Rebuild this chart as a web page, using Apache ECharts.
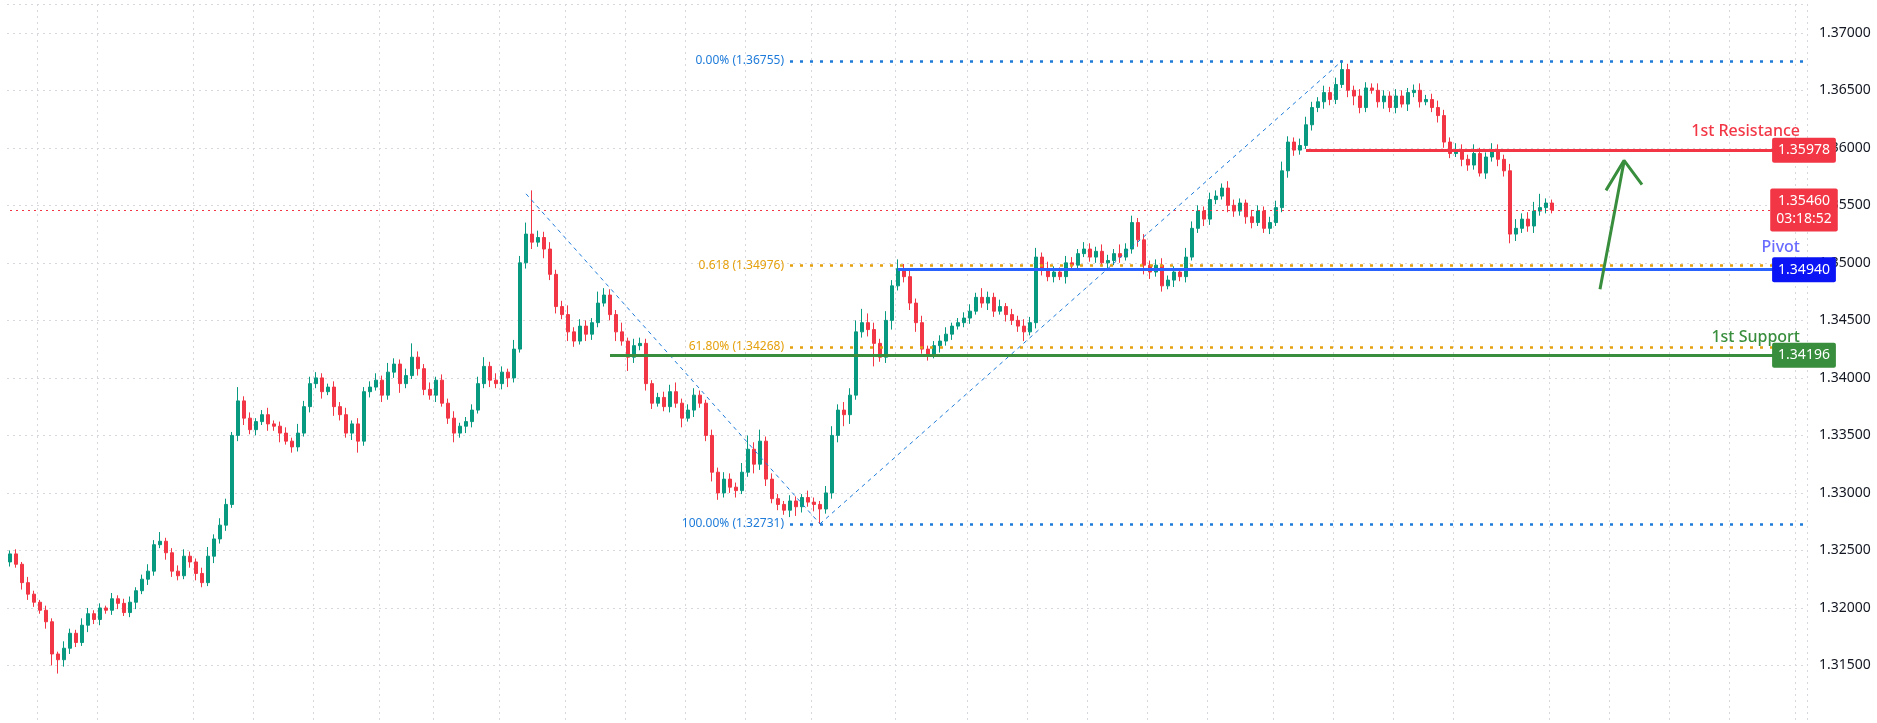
<!DOCTYPE html>
<html><head><meta charset="utf-8">
<script src="https://cdn.jsdelivr.net/npm/echarts@6/dist/echarts.min.js"></script>
<style>html,body{margin:0;padding:0;background:#fff}#c{width:1877px;height:723px}</style>
</head><body><div id="c"></div>
<script>
const firstOpen = 1.3240;
const closes = [
1.3247,1.3238,1.3222,1.3212,1.3205,1.3198,1.3188,1.3160,1.3155,1.3165,
1.3178,1.3170,1.3185,1.3195,1.3190,1.3200,1.3198,1.3208,1.3204,1.3196,
1.3205,1.3215,1.3225,1.3232,1.3255,1.3258,1.3248,1.3232,1.3228,1.3245,
1.3240,1.3230,1.3222,1.3245,1.3260,1.3272,1.3290,1.3350,1.3380,1.3365,
1.3355,1.3362,1.3368,1.3360,1.3358,1.3352,1.3345,1.3340,1.3352,1.3375,
1.3395,1.3400,1.3388,1.3392,1.3375,1.3368,1.3352,1.3360,1.3345,1.3388,
1.3392,1.3398,1.3385,1.3405,1.3412,1.3395,1.3402,1.3418,1.3408,1.3390,
1.3385,1.3398,1.3378,1.3365,1.3352,1.3358,1.3362,1.3372,1.3395,1.3410,
1.3398,1.3395,1.3405,1.3400,1.3425,1.3500,1.3525,1.3518,1.3522,1.3512,
1.3490,1.3462,1.3455,1.3440,1.3432,1.3445,1.3438,1.3448,1.3465,1.3472,
1.3455,1.3440,1.3432,1.3418,1.3428,1.3430,1.3395,1.3378,1.3383,1.3375,
1.3388,1.3378,1.3365,1.3372,1.3385,1.3378,1.3350,1.3318,1.3300,1.3312,
1.3305,1.3302,1.3318,1.3338,1.3325,1.3345,1.3312,1.3295,1.3290,1.3285,
1.3293,1.3288,1.3296,1.3292,1.3290,1.3286,1.3300,1.3350,1.3372,1.3368,
1.3385,1.3440,1.3448,1.3442,1.3430,1.3418,1.3450,1.3480,1.3495,1.3488,
1.3465,1.3448,1.3425,1.3420,1.3428,1.3432,1.3438,1.3445,1.3448,1.3452,
1.3458,1.3470,1.3465,1.3470,1.3458,1.3462,1.3455,1.3450,1.3445,1.3440,
1.3448,1.3505,1.3495,1.3488,1.3492,1.3488,1.3500,1.3498,1.3508,1.3512,
1.3505,1.3510,1.3500,1.3502,1.3508,1.3505,1.3512,1.3535,1.3520,1.3498,
1.3492,1.3498,1.3480,1.3485,1.3492,1.3488,1.3505,1.3530,1.3545,1.3538,
1.3555,1.3558,1.3565,1.3550,1.3545,1.3552,1.3540,1.3535,1.3545,1.3530,
1.3535,1.3548,1.3580,1.3605,1.3598,1.3602,1.3620,1.3635,1.3640,1.3648,
1.3642,1.3655,1.3668,1.3650,1.3645,1.3635,1.3652,1.3650,1.3640,1.3645,
1.3635,1.3645,1.3638,1.3648,1.3650,1.3640,1.3642,1.3635,1.3628,1.3605,
1.3595,1.3598,1.3590,1.3585,1.3595,1.3578,1.3592,1.3598,1.3590,1.3580,
1.3525,1.3530,1.3538,1.3532,1.3545,1.3548,1.3552,1.3546];
const hiExt = [
3,4,2,5,3,2,4,3,2,6, 4,3,6,5,3,4,2,5,3,4, 5,3,4,6,4,8,3,4,5,6, 4,3,5,8,4,6,5,3,12,4,
5,3,4,6,3,4,5,3,8,5, 6,5,4,3,5,4,6,3,5,4, 5,6,4,8,5,4,6,12,5,4, 6,3,5,4,6,3,4,5,6,8,
4,6,5,3,8,6,10,38,6,5, 6,4,5,8,4,6,5,4,10,6, 5,4,8,3,6,5,4,3,4,5, 6,8,4,5,6,4,3,5,4,6,
5,4,8,12,6,10,4,5,4,3, 5,4,3,6,4,3,6,8,5,7, 6,10,12,8,6,4,8,5,8,4, 5,4,6,3,4,5,6,3,4,5,
6,4,8,5,4,6,3,5,4,6, 5,8,4,6,5,4,6,5,4,6, 5,4,6,5,4,8,5,6,4,5, 4,5,6,4,5,3,8,6,5,4,
6,5,4,6,5,4,3,6,5,4, 5,6,8,5,4,6,7,5,4,6, 5,6,8,5,4,6,5,4,6,5, 4,6,5,4,5,6,4,5,6,5,
4,6,5,4,8,5,4,6,5,4, 6,8,5,6,8,12,4,3];
const loExt = [
4,3,6,5,4,3,6,10,12,6, 5,4,3,6,4,5,3,4,5,3, 4,6,3,5,4,3,6,5,4,3, 5,6,4,3,6,4,5,3,5,6,
4,5,3,6,4,8,3,5,4,3, 5,4,6,3,8,5,4,6,10,4, 5,3,6,4,5,8,4,3,6,5, 4,6,3,5,8,4,6,5,3,4,
6,4,5,8,4,3,5,6,4,8, 5,6,4,8,5,3,6,5,4,3, 5,8,4,12,5,4,6,5,3,4, 5,4,8,3,6,4,5,8,6,4,
5,6,3,4,8,5,6,4,5,4, 6,8,5,4,6,13,4,5,6,10, 8,4,5,6,20,4,5,8,4,5, 6,8,4,5,3,6,4,5,3,4,
5,3,4,6,5,3,6,4,5,8, 3,5,6,4,5,3,6,4,5,3, 4,5,3,6,4,5,3,4,6,8, 6,4,5,3,6,4,5,3,4,6,
5,4,3,6,5,4,6,5,3,4, 5,3,4,6,5,4,3,5,4,6, 5,4,3,6,8,5,4,3,5,6, 4,5,3,6,4,5,3,4,6,5,
4,3,6,5,4,3,5,4,6,5, 8,6,4,5,6,4,5,3];
const totalSlots = 300;
const levels = {resistance:1.35978, current:1.35460, pivot:1.34940, support:1.34196};
const fib = {f0:1.36755, f618:1.34976, f618b:1.34268, f100:1.32731};
const vGridIdx = [5,15,31,41,51,62,71,82,93,103,113,123,134,148,160,170,180,190,200,211,221,231,241,257,267,277,287,298];

const cats = [], ohlc = [];
let prev = firstOpen;
for (let i = 0; i < totalSlots; i++) {
  cats.push(String(i));
  if (i < closes.length) {
    const o = prev, c = closes[i];
    ohlc.push([o, c, +(Math.min(o,c) - loExt[i]*0.0001).toFixed(5), +(Math.max(o,c) + hiExt[i]*0.0001).toFixed(5)]);
    prev = c;
  } else ohlc.push('-');
}
const vset = new Set(vGridIdx);
const UP='#089981', DN='#f23645', BLUE='#2962ff', FIBB='#1e7bd9', ORG='#e5a00d', GRN='#388e3c';
const font = 'Noto Sans';
const LAST = totalSlots - 1;
function hline(x0, v, ls, label){
  return [{coord:[x0, v], lineStyle:ls, label:label||{show:false}}, {coord:[LAST, v]}];
}
function badge(v, bg, text){
  return hline(LAST, v, {color:'rgba(0,0,0,0)', width:0},
    {show:true, position:'end', distance:6, formatter:text||v.toFixed(5),
     backgroundColor:bg, color:'#fff', fontSize:14, fontFamily:font, padding:[4,6,3,6], borderRadius:2, lineHeight:18});
}
function fibLabel(t, c){ return {show:true, position:'start', formatter:t, color:c, fontSize:12, fontFamily:font, distance:6}; }
function lvlLabel(t, c, d){ return {show:true, position:'insideEndTop', formatter:t, color:c, fontSize:16, fontWeight:500, fontFamily:font, distance:[4,d]}; }
const chart = echarts.init(document.getElementById('c'));
chart.setOption({
  animation:false,
  grid:{left:7, right:70, top:4, bottom:-4},
  xAxis:{type:'category', data:cats, boundaryGap:true, axisLine:{show:false}, axisTick:{show:false}, axisLabel:{show:false},
    splitLine:{show:true, interval:(idx)=>vset.has(idx), lineStyle:{color:'#d6d8de', type:[2,4], width:1}}},
  yAxis:{type:'value', position:'right', min:1.31, max:1.3725, interval:0.005, scale:true,
    axisLine:{show:false}, axisTick:{show:false},
    axisLabel:{margin:12, color:'#131722', fontSize:14, fontFamily:font, formatter:v=> (v<1.3125||v>1.371) ? '' : v.toFixed(5)},
    splitLine:{lineStyle:{color:'#d6d8de', type:[2,4], width:1}}},
  series:[
    {type:'candlestick', data:ohlc, barWidth:4,
     itemStyle:{color:UP, color0:DN, borderColor:UP, borderColor0:DN, borderWidth:1},
     markLine:{symbol:'none', silent:true, animation:false, data:[
       hline(0, levels.current, {color:DN, type:[2,4], width:1}),
       hline(130, fib.f0, {color:FIBB, type:[3,7], width:2.5}, fibLabel('0.00% (1.36755)', FIBB)),
       hline(130, fib.f100, {color:FIBB, type:[3,7], width:2.5}, fibLabel('100.00% (1.32731)', FIBB)),
       hline(130, fib.f618, {color:ORG, type:[3,7], width:2.5}, fibLabel('0.618 (1.34976)', ORG)),
       hline(130, fib.f618b, {color:ORG, type:[3,7], width:2.5}, fibLabel('61.80% (1.34268)', ORG)),
       [{coord:[86,1.3560], lineStyle:{color:FIBB, type:[4,4], width:1}, label:{show:false}},{coord:[135,fib.f100]}],
       [{coord:[135,fib.f100], lineStyle:{color:FIBB, type:[4,4], width:1}, label:{show:false}},{coord:[222,fib.f0]}],
       hline(100, levels.support, {color:GRN, type:'solid', width:3}, lvlLabel('1st Support', GRN, 10)),
       hline(148, levels.pivot, {color:BLUE, type:'solid', width:3}, lvlLabel('Pivot', '#6a6cff', 14)),
       hline(216, levels.resistance, {color:DN, type:'solid', width:3}, lvlLabel('1st Resistance', DN, 11)),
       badge(levels.resistance, DN),
       badge(levels.current, DN, '1.35460\n03:18:52'),
       badge(levels.pivot, '#0a14f5'),
       badge(levels.support, GRN)
     ]}},
    {type:'line', data:[[265,1.3477],[269,1.3588]], symbol:'none', lineStyle:{color:GRN, width:3}, z:5},
    {type:'line', data:[[266,1.3563],[269,1.3589],[272,1.3568]], symbol:'none', lineStyle:{color:GRN, width:3}, z:5}
  ]
});
</script></body></html>
